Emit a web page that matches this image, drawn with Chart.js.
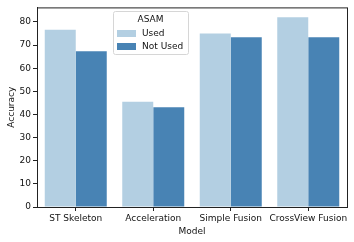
<!DOCTYPE html>
<html>
<head>
<meta charset="utf-8">
<script src="https://cdn.jsdelivr.net/npm/chart.js@4/dist/chart.umd.min.js"></script>
<style>
  html, body { margin: 0; padding: 0; background: #fff; }
  #wrap { width: 354px; height: 242px; }
</style>
</head>
<body>
<div id="wrap"><canvas id="myChart" width="354" height="242"></canvas></div>
<script>
const models = ["ST Skeleton", "Acceleration", "Simple Fusion", "CrossView Fusion"];
const usedValues = [76.6, 45.5, 75.0, 82.0];
const notUsedValues = [67.3, 43.1, 73.4, 73.4];
const seriesNames = ["Used", "Not Used"];
const yTicks = [0, 10, 20, 30, 40, 50, 60, 70, 80];
const barColors = ["#b3cfe2", "#4883b4"];

const font = { family: "DejaVu Sans", size: 9 };

// matplotlib style frame around the axes
const framePlugin = {
    id: "frame",
    afterDraw(chart) {
        const { ctx, chartArea: a } = chart;
        ctx.save();
        ctx.strokeStyle = "#222";
        ctx.lineWidth = 1;
        ctx.strokeRect(a.left + 0.5, a.top + 0.5, a.right - a.left, a.bottom - a.top);
        ctx.restore();
    }
};

// legend box drawn inside the axes, seaborn style
const legendPlugin = {
    id: "boxLegend",
    afterDraw(chart) {
        const ctx = chart.ctx;
        const x = 113, y = 11, w = 75, h = 43;
        ctx.save();
        ctx.fillStyle = "rgba(255,255,255,0.85)";
        ctx.strokeStyle = "#d6d6d6";
        ctx.lineWidth = 1;
        ctx.beginPath();
        ctx.roundRect(x + 0.5, y + 0.5, w, h, 2);
        ctx.fill();
        ctx.stroke();
        ctx.fillStyle = "#111";
        ctx.font = "9px 'DejaVu Sans'";
        ctx.textAlign = "center";
        ctx.textBaseline = "middle";
        ctx.fillText("ASAM", x + w / 2, y + 9);
        ctx.textAlign = "left";
        chart.data.datasets.forEach((ds, i) => {
            const ry = y + 22 + i * 13;
            ctx.fillStyle = ds.backgroundColor;
            ctx.fillRect(x + 4, ry - 3, 19, 7);
            ctx.fillStyle = "#111";
            ctx.fillText(ds.label, x + 29, ry + 1);
        });
        ctx.restore();
    }
};

new Chart(document.getElementById("myChart").getContext("2d"), {
    type: "bar",
    data: {
        labels: models,
        datasets: [
            { label: seriesNames[0], data: usedValues, backgroundColor: barColors[0] },
            { label: seriesNames[1], data: notUsedValues, backgroundColor: barColors[1] }
        ]
    },
    options: {
        responsive: false,
        animation: false,
        devicePixelRatio: 1,
        categoryPercentage: 0.8,
        barPercentage: 1.0,
        layout: { padding: { top: 6, right: 7, left: 0, bottom: 5 } },
        plugins: {
            legend: { display: false },
            tooltip: { enabled: false }
        },
        scales: {
            x: {
                grid: { display: true, offset: false, drawOnChartArea: false, color: "#222", tickLength: 4 },
                border: { color: "#222" },
                ticks: { color: "#111", font: font, padding: 2, maxRotation: 0, autoSkip: false },
                title: { display: true, text: "Model", color: "#111", font: font, padding: { top: 0, bottom: 0 } },
                afterFit(s) { s.height = 30; }
            },
            y: {
                min: 0,
                max: 86.3,
                afterBuildTicks(s) { s.ticks = yTicks.map(v => ({ value: v })); },
                grid: { display: true, drawOnChartArea: false, color: "#222", tickLength: 4 },
                border: { color: "#222" },
                ticks: { color: "#111", font: font, padding: 2 },
                title: { display: true, text: "Accuracy", color: "#111", font: font, padding: { top: 6, bottom: 0 } },
                afterFit(s) { s.width = 37; }
            }
        }
    },
    plugins: [framePlugin, legendPlugin]
});
</script>
</body>
</html>
